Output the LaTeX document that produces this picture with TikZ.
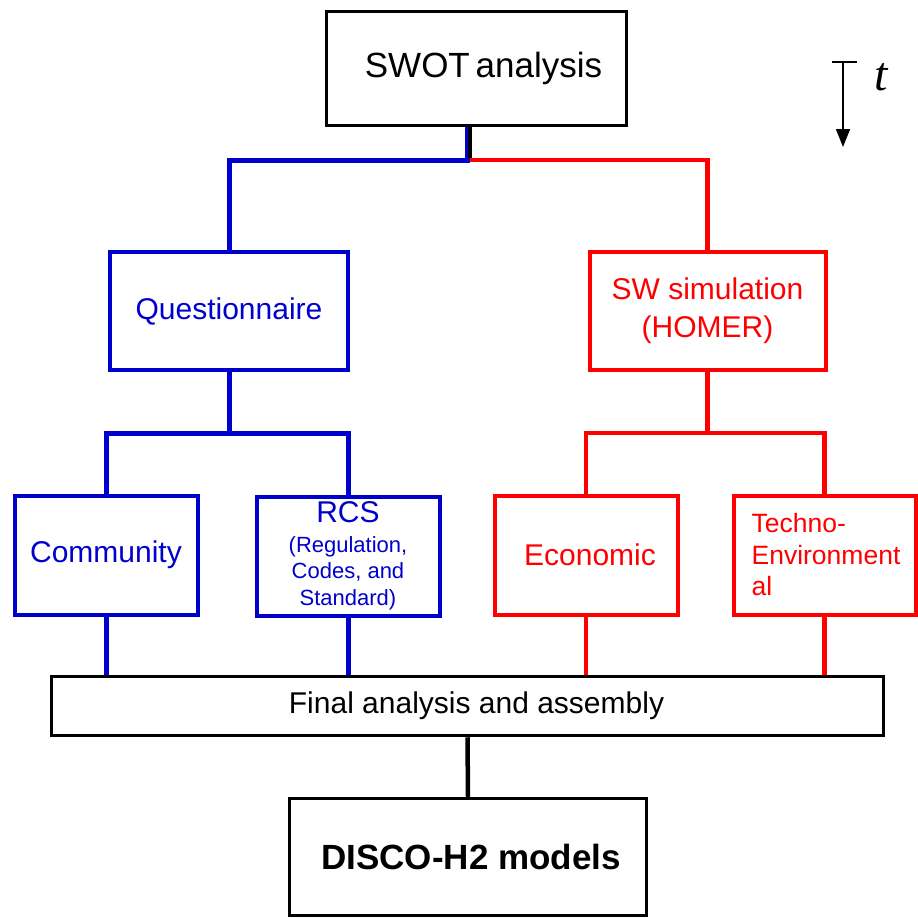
\documentclass[tikz,border=0pt]{standalone}
\usepackage{fontspec}
\setmainfont{Liberation Sans}
\newfontfamily\serifit{Liberation Serif}
\usetikzlibrary{arrows.meta}
\definecolor{cblue}{RGB}{0,0,204}
\definecolor{cred}{RGB}{255,0,0}
\begin{document}
\begin{tikzpicture}[x=1pt,y=-1pt,
  bbox/.style={draw=black, line width=3.5pt, inner sep=0pt, align=center, text=black},
  bluebox/.style={draw=cblue, line width=4pt, inner sep=0pt, align=center, text=cblue},
  redbox/.style={draw=cred, line width=4pt, inner sep=0pt, align=center, text=cred},
  bline/.style={draw=cblue, line width=5pt},
  rline/.style={draw=cred, line width=4.5pt},
  kline/.style={draw=black, line width=4.5pt},
  fbig/.style={font=\fontsize{30}{38}\selectfont},
]
\useasboundingbox (0,0) rectangle (918,918);

% boxes
\node[bbox, minimum width=300, minimum height=114, font=\fontsize{35}{38}\selectfont] (swot) at (476.5,68.5) {\hspace*{14pt}SWOT\,analysis};
\node[bluebox, fbig, minimum width=238, minimum height=118] (quest) at (229,311) {Questionnaire};
\node[redbox, fbig, minimum width=236, minimum height=118] (sim) at (707.5,311) {SW simulation\\(HOMER)};
\node[bluebox, fbig, minimum width=183, minimum height=119] (comm) at (106,555) {Community};
\node[bluebox, minimum width=183, minimum height=119, font=\fontsize{22}{26.5}\selectfont] (rcs) at (348,556) {{\fontsize{30}{30}\selectfont RCS}\\[3pt](Regulation,\\Codes, and\\Standard)};
\node[redbox, fbig, minimum width=183, minimum height=119] (econ) at (586,555) {\hspace*{8pt}Economic};
\node[redbox, minimum width=182, minimum height=119, align=left, font=\fontsize{26.5}{31.5}\selectfont] (techno) at (824.5,555) {\hspace*{3pt}Techno-\\\hspace*{3pt}Environment\\\hspace*{3pt}al};
\node[bbox, minimum width=832, minimum height=59, font=\fontsize{30}{34}\selectfont] (final) at (467.5,706) {\hspace*{18pt}Final analysis and assembly};
\node[bbox, minimum width=357, minimum height=117, font=\fontsize{35}{38}\selectfont\bfseries] (disco) at (468,857) {\hspace*{6pt}DISCO-H2 models};

% junctions
\coordinate (j) at (470,160);
\coordinate (q) at (229,433);
\coordinate (s) at (707.5,433);

% top split
\draw[bline] (quest.north) |- ([xshift=-3]j) -- ([xshift=-3]j |- swot.south);
\draw[rline] (sim.north) |- (j);
\draw[kline] (j |- swot.south) -- ([yshift=2]j);

% questionnaire split
\draw[bline] (quest.south) -- (q);
\draw[bline] (comm.north) |- (q) -| (rcs.north);
% simulation split
\draw[rline] (sim.south) -- (s);
\draw[rline] (econ.north) |- (s) -| (techno.north);

% into final
\draw[bline] (comm.south) -- (comm.south |- final.north);
\draw[bline] (rcs.south) -- (rcs.south |- final.north);
\draw[rline] (econ.south) -- (econ.south |- final.north);
\draw[rline] (techno.south) -- (techno.south |- final.north);

% final to disco
\draw[kline] (final.south) -- (disco.north);

% time arrow
\coordinate (ta) at (832,62);
\coordinate (tb) at (857,62);
\coordinate (tc) at (843,62);
\coordinate (td) at (843,147);
\draw[line width=1.5pt] (ta) -- (tb);
\draw[line width=1.5pt, -{Triangle[width=14pt,length=18pt]}] (tc) -- (td);
\node[font=\fontsize{48}{48}\selectfont\serifit\itshape, inner sep=0pt] (tlab) at (881,77) {t};
\end{tikzpicture}
\end{document}
